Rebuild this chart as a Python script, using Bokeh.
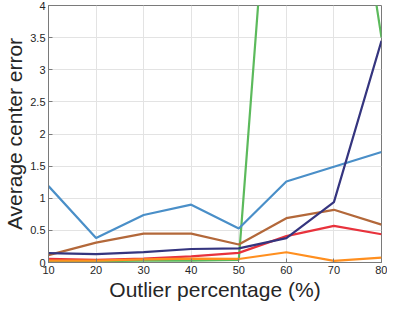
from bokeh.plotting import figure
from bokeh.models import FixedTicker
from bokeh.embed import file_html
from bokeh.resources import INLINE

# Data
outlier_pct = [10, 20, 30, 40, 50, 60, 70, 80]
series_green = [0.02, 0.02, 0.03, 0.03, 0.04, 9.8, 8.3, 3.5]
series_blue = [1.19, 0.38, 0.74, 0.90, 0.53, 1.26, 1.49, 1.72]
series_brown = [0.115, 0.31, 0.45, 0.45, 0.28, 0.69, 0.82, 0.59]
series_red = [0.055, 0.04, 0.06, 0.095, 0.15, 0.41, 0.57, 0.44]
series_navy = [0.145, 0.13, 0.16, 0.21, 0.22, 0.38, 0.94, 3.45]
series_orange = [0.03, 0.03, 0.05, 0.06, 0.055, 0.16, 0.025, 0.075]

x_ticks = [10, 20, 30, 40, 50, 60, 70, 80]
y_ticks = [0, 0.5, 1, 1.5, 2, 2.5, 3, 3.5, 4]
y_tick_labels = ["0", "0.5", "1", "1.5", "2", "2.5", "3", "3.5", "4"]

FONT = "Liberation Sans"
AX = "#7a7a7a"
TXT = "#262626"

p = figure(width=387, height=303, x_range=(10, 80), y_range=(0, 4),
           output_backend="svg", toolbar_location=None,
           min_border_left=0, min_border_right=6, min_border_top=5,
           min_border_bottom=0)
p.background_fill_color = "white"
p.border_fill_color = "white"
p.outline_line_color = AX
p.outline_line_width = 1

for ax in (p.xaxis[0], p.yaxis[0]):
    ax.axis_line_color = AX
    ax.major_tick_line_color = AX
    ax.major_tick_in = 4
    ax.major_tick_out = 0
    ax.minor_tick_line_color = None
    ax.major_label_text_font = FONT
    ax.major_label_text_font_size = "11px"
    ax.major_label_text_color = TXT
    ax.axis_label_text_font = FONT
    ax.axis_label_text_font_size = "21px"
    ax.axis_label_text_font_style = "normal"
    ax.axis_label_text_color = TXT
    ax.major_label_standoff = 3
    ax.axis_label_standoff = 1

p.xaxis[0].ticker = FixedTicker(ticks=x_ticks)
p.yaxis[0].ticker = FixedTicker(ticks=y_ticks)
p.yaxis[0].major_label_overrides = {v: s for v, s in zip(y_ticks, y_tick_labels)}
p.xaxis[0].axis_label = "Outlier percentage (%)"
p.yaxis[0].axis_label = "Average center error"

p.xgrid.ticker = FixedTicker(ticks=x_ticks)
p.ygrid.ticker = FixedTicker(ticks=y_ticks)
p.xgrid.grid_line_color = "#e3e3e3"
p.ygrid.grid_line_color = "#e3e3e3"

lw = 2.2
p.line(outlier_pct, series_green, line_color="#5cba5c", line_width=lw)
p.line(outlier_pct, series_blue, line_color="#4a8fc8", line_width=lw)
p.line(outlier_pct, series_brown, line_color="#b3683a", line_width=lw)
p.line(outlier_pct, series_red, line_color="#e8323c", line_width=lw)
p.line(outlier_pct, series_navy, line_color="#35357f", line_width=lw)
p.line(outlier_pct, series_orange, line_color="#ff8f1f", line_width=lw)

open("out.html", "w").write(file_html(p, INLINE))
